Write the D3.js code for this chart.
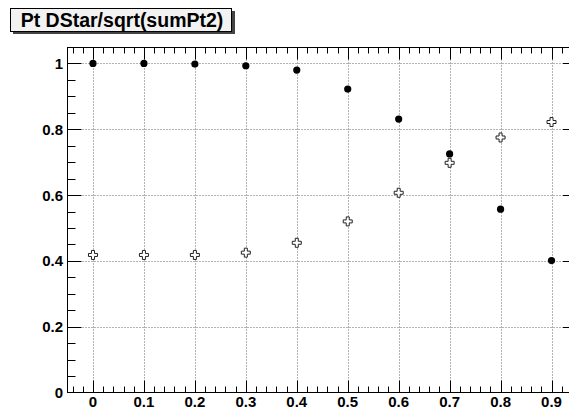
<!DOCTYPE html>
<html>
<head>
<meta charset="utf-8">
<script src="https://cdn.jsdelivr.net/npm/d3@7"></script>
<style>
  body { margin: 0; background: #fff; }
  svg { display: block; }
</style>
</head>
<body>
<div id="chart"></div>
<script>
// chart data
const title = "Pt DStar/sqrt(sumPt2)";
const xValues = [0, 0.1, 0.2, 0.3, 0.4, 0.5, 0.6, 0.7, 0.8, 0.9];
const filledValues = [1.0, 1.0, 0.998, 0.993, 0.980, 0.922, 0.831, 0.725, 0.557, 0.401];
const crossValues = [0.418, 0.418, 0.418, 0.425, 0.455, 0.520, 0.607, 0.698, 0.775, 0.822];
const xTicks = [0, 0.1, 0.2, 0.3, 0.4, 0.5, 0.6, 0.7, 0.8, 0.9];
const yTicks = [0, 0.2, 0.4, 0.6, 0.8, 1];

const w = 569;
const h = 409;
const font = "'Liberation Sans', Arial, Helvetica, sans-serif";

let svg = d3.select("#chart")
  .append("svg")
  .attr("width", w)
  .attr("height", h)

// frame runs off the right edge, like the original canvas
// (don't call these top/left: window.top is taken)
let fLeft = 67.5, fRight = 577, fTop = 47.5, fBottom = 392.5;

let x = d3.scaleLinear().domain([-0.05, 0.95]).range([fLeft, fRight]);
let y = d3.scaleLinear().domain([0, 1.05]).range([fBottom, fTop - 0.5]);

// grid
svg.selectAll(".gx")
  .data(xTicks)
  .enter()
  .append("line")
  .attr("x1", d => Math.round(x(d)) + 0.5)
  .attr("x2", d => Math.round(x(d)) + 0.5)
  .attr("y1", fTop)
  .attr("y2", fBottom)
  .attr("stroke", "#666")
  .attr("stroke-width", 1)
  .attr("stroke-dasharray", "1,2")

svg.selectAll(".gy")
  .data(yTicks.filter(d => d > 0))
  .enter()
  .append("line")
  .attr("x1", fLeft)
  .attr("x2", fRight)
  .attr("y1", d => Math.round(y(d)) + 0.5)
  .attr("y2", d => Math.round(y(d)) + 0.5)
  .attr("stroke", "#666")
  .attr("stroke-width", 1)
  .attr("stroke-dasharray", "1,2")

// ticks: major + minor on all four sides (ROOT style, pointing inward)
let xMinor = d3.range(-0.04, 0.95, 0.02).map(d => +d.toFixed(2));
let yMinor = d3.range(0.05, 1.05, 0.05).map(d => +d.toFixed(2));
let isMajorX = d => xTicks.some(t => Math.abs(t - d) < 1e-6);
let isMajorY = d => yTicks.some(t => Math.abs(t - d) < 1e-6);

let tickG = svg.append("g").attr("stroke", "#000").attr("stroke-width", 1)

xMinor.forEach(d => {
  let len = isMajorX(d) ? 12 : 6;
  let px = Math.round(x(d)) + 0.5;
  tickG.append("line").attr("x1", px).attr("x2", px).attr("y1", fBottom).attr("y2", fBottom - len)
  tickG.append("line").attr("x1", px).attr("x2", px).attr("y1", fTop).attr("y2", fTop + len)
})

yMinor.forEach(d => {
  let len = isMajorY(d) ? 14 : 8;
  let py = Math.round(y(d)) + 0.5;
  tickG.append("line").attr("x1", fLeft).attr("x2", fLeft + len).attr("y1", py).attr("y2", py)
  tickG.append("line").attr("x1", fRight).attr("x2", fRight - len).attr("y1", py).attr("y2", py)
})

// frame
svg.append("rect")
  .attr("x", fLeft)
  .attr("y", fTop)
  .attr("width", fRight - fLeft)
  .attr("height", fBottom - fTop)
  .attr("fill", "none")
  .attr("stroke", "#000")
  .attr("stroke-width", 1)

// tick labels
svg.selectAll(".xl")
  .data(xTicks)
  .enter()
  .append("text")
  .text(d => d)
  .attr("x", d => x(d))
  .attr("y", 407)
  .attr("text-anchor", "middle")
  .attr("font-family", font)
  .attr("font-weight", "bold")
  .attr("font-size", 15)

svg.selectAll(".yl")
  .data(yTicks)
  .enter()
  .append("text")
  .text(d => d)
  .attr("x", 63)
  .attr("y", d => y(d) + 5.5)
  .attr("text-anchor", "end")
  .attr("font-family", font)
  .attr("font-weight", "bold")
  .attr("font-size", 15)

// filled circles
svg.selectAll(".dot")
  .data(filledValues)
  .enter()
  .append("circle")
  .attr("cx", (d, i) => x(xValues[i]))
  .attr("cy", d => y(d))
  .attr("r", 3.6)
  .attr("fill", "#000")

// open crosses
let cross = "M-1.5,-4.5 H1.5 V-1.5 H4.5 V1.5 H1.5 V4.5 H-1.5 V1.5 H-4.5 V-1.5 H-1.5 Z";
svg.selectAll(".cross")
  .data(crossValues)
  .enter()
  .append("path")
  .attr("d", cross)
  .attr("transform", (d, i) => "translate(" + x(xValues[i]) + "," + y(d) + ")")
  .attr("fill", "#fff")
  .attr("stroke", "#222")
  .attr("stroke-width", 1)

// title box with shadow
svg.append("rect")
  .attr("x", 13).attr("y", 11).attr("width", 222).attr("height", 23)
  .attr("fill", "#444")
svg.append("rect")
  .attr("x", 10.5).attr("y", 8.5).attr("width", 221).attr("height", 23)
  .attr("fill", "#f2f2f2")
  .attr("stroke", "#000")
  .attr("stroke-width", 1)
svg.append("text")
  .text(title)
  .attr("x", 122)
  .attr("y", 27)
  .attr("text-anchor", "middle")
  .attr("font-family", font)
  .attr("font-weight", "bold")
  .attr("font-size", 19.5)
</script>
</body>
</html>
